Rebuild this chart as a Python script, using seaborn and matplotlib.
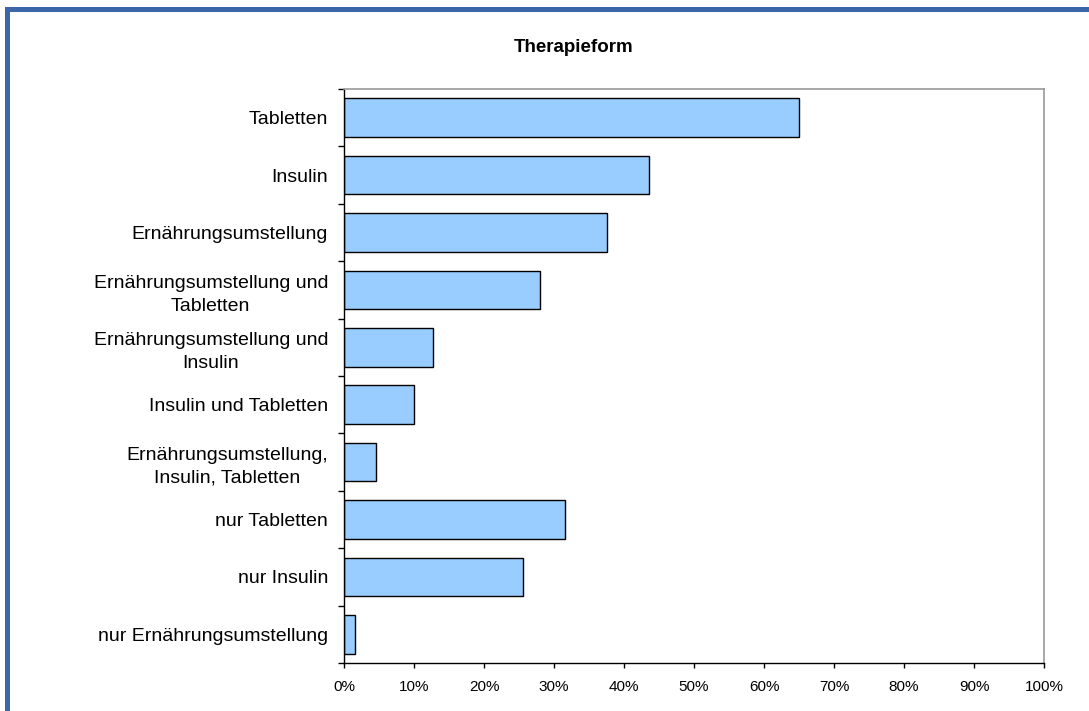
import matplotlib
matplotlib.use("Agg")
import matplotlib.pyplot as plt
import seaborn as sns
import pandas as pd
import numpy as np
from matplotlib.patches import Rectangle
from matplotlib.ticker import FixedLocator, PercentFormatter

categories = [
    "Tabletten",
    "Insulin",
    "Ernährungsumstellung",
    "Ernährungsumstellung und\nTabletten",
    "Ernährungsumstellung und\nInsulin",
    "Insulin und Tabletten",
    "Ernährungsumstellung,\nInsulin, Tabletten",
    "nur Tabletten",
    "nur Insulin",
    "nur Ernährungsumstellung",
]
values = [65.0, 43.5, 37.5, 28.0, 12.7, 10.0, 4.5, 31.6, 25.5, 1.5]
title = "Therapieform"

sns.set_theme(style="white")
plt.rcParams["font.family"] = ["Liberation Sans", "DejaVu Sans"]

df = pd.DataFrame({"cat": categories, "val": values})

fig = plt.figure(figsize=(10.89, 7.11), dpi=100)
ax = fig.add_axes([344/1089, 1-663/711, 700/1089, 574/711])

sns.barplot(data=df, y="cat", x="val", orient="h", ax=ax, color="#99CCFF",
            saturation=1, edgecolor="black", linewidth=1.0, width=0.67)

ax.set_xlim(0, 100)
ax.set_ylim(len(categories) - 0.5, -0.5)
ax.set_xlabel("")
ax.set_ylabel("")
ax.xaxis.set_major_locator(FixedLocator(np.arange(0, 101, 10)))
ax.xaxis.set_major_formatter(PercentFormatter(decimals=0))

ax.yaxis.set_minor_locator(FixedLocator(np.arange(-0.5, len(categories), 1.0)))
ax.tick_params(axis="y", which="major", length=0, pad=11.5, labelsize=14, labelcolor="black")
ax.tick_params(axis="y", which="minor", left=True, length=4.3, width=1, color="black")
ax.tick_params(axis="x", which="major", bottom=True, length=3.6, width=1, color="black",
               pad=8.5, labelsize=11, labelcolor="black")
for lbl in ax.get_yticklabels():
    lbl.set_multialignment("center")
    lbl.set_linespacing(1.45)

for s in ["left", "bottom"]:
    ax.spines[s].set_color("black")
    ax.spines[s].set_linewidth(1.0)
for s in ["top", "right"]:
    ax.spines[s].set_color("#999999")
    ax.spines[s].set_linewidth(1.2)
ax.grid(False)

fig.text(574/1089, 1-47/711, title, ha="center", va="center",
         fontsize=13.5, fontweight="bold", color="black")

frame_color = "#3B66A8"
fig.patches.append(Rectangle((5/1089, 0), 5/1089, 1-7/711, transform=fig.transFigure,
                             facecolor=frame_color, edgecolor="none", zorder=10))
fig.patches.append(Rectangle((5/1089, 1-12/711), 1, 5/711, transform=fig.transFigure,
                             facecolor=frame_color, edgecolor="none", zorder=10))

fig.savefig("out.png", dpi=100)
